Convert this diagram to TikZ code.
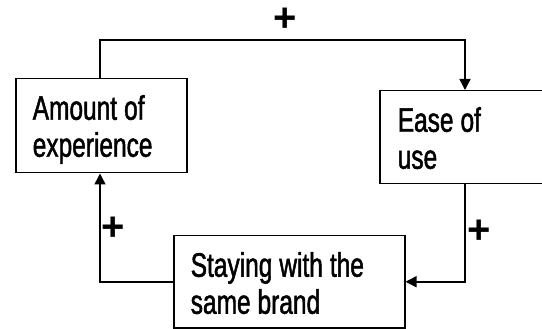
\documentclass[tikz,border=0pt]{standalone}
\usepackage{fontspec}
\setmainfont{Liberation Sans}[FakeStretch=0.72, FakeBold=1.4]
\newfontfamily\plusfont{Liberation Sans}
\usetikzlibrary{arrows.meta}
\newcommand\narrowgap{\spaceskip=7pt\relax}
\tikzset{
  box/.style={draw, line width=1.5pt, anchor=north west, align=left,
    inner xsep=17pt, inner ysep=0pt, text width=#1,
    text height=41pt, font=\fontsize{34}{37}\selectfont,
    execute at begin node=\narrowgap},
  link/.style={line width=1.5pt, -{Triangle[length=11pt,width=11pt]}},
  sign/.style={font=\plusfont\bfseries\fontsize{40}{40}\selectfont, inner sep=0pt}
}
\begin{document}
\begin{tikzpicture}[x=1pt,y=-1pt]
\useasboundingbox (0,0) rectangle (542,329);
\node[box=137pt, minimum width=171pt, text depth=53pt] (A) at (15,78) {Amount of\\experience};
\node[box=134pt, minimum width=170pt, text depth=52pt] (B) at (379,90) {Ease of\\use};
\node[box=197pt, minimum width=231pt, text depth=51pt] (C) at (173,235) {Staying with the\\same brand};
\coordinate (t1) at (100,40);
\coordinate (t2) at (465,40);
\draw[link] (A.north -| t1) -- (t1) -- (t2) -- (B.north -| t2);
\draw[link] (B.south -| t2) |- (C.east);
\draw[link] (C.west) -| (A.south -| t1);
\node[sign] (p1) at (285,20) {+};
\node[sign] (p2) at (113,229) {+};
\node[sign] (p3) at (479,232) {+};
\end{tikzpicture}
\end{document}
